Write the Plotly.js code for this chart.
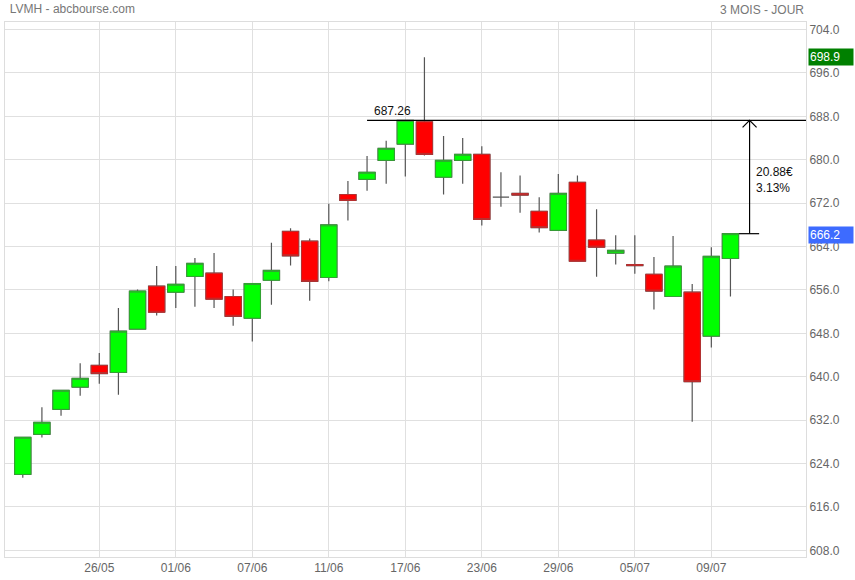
<!DOCTYPE html>
<html>
<head>
<meta charset="utf-8">
<script src="https://cdn.plot.ly/plotly-3.0.1.min.js"></script>
<style>
  html, body { margin: 0; padding: 0; background: #fff; }
  #chart { width: 855px; height: 580px; }
</style>
</head>
<body>
<div id="chart"></div>
<script>
// ---- data (LVMH, daily, 3 months view) ----
const dates = ["20/05","21/05","24/05","25/05","26/05","27/05","28/05","31/05","01/06","02/06",
               "03/06","04/06","07/06","08/06","09/06","10/06","11/06","14/06","15/06","16/06",
               "17/06","18/06","21/06","22/06","23/06","24/06","25/06","28/06","29/06","30/06",
               "01/07","02/07","05/07","06/07","07/07","08/07","09/07","12/07"];
const openP  = [622.0,629.4,634.0,638.1,642.1,640.8,648.8,656.7,655.6,658.5,
                659.1,654.8,650.8,657.8,666.8,665.0,658.3,673.6,676.4,679.9,
                682.9,687.0,676.8,679.9,681.0,673.1,673.8,670.5,667.0,675.85,
                665.2,662.8,660.7,658.9,654.8,655.6,647.5,661.8];
const highP  = [628.9,634.4,637.6,642.5,644.4,652.7,656.1,660.4,660.4,661.9,
                662.8,656.1,657.3,664.7,667.4,665.5,671.9,676.1,680.7,683.5,
                687.4,698.9,684.4,684.0,682.5,677.7,677.1,673.1,677.4,677.1,
                670.9,666.1,666.1,662.1,665.95,657.1,663.9,666.5];
const lowP   = [621.4,628.8,632.8,636.5,638.7,636.7,648.8,651.3,652.7,652.9,
                652.7,649.4,646.5,653.3,660.5,654.0,657.6,668.8,674.3,675.6,
                676.9,680.8,673.6,675.6,667.9,671.35,670.25,666.6,667.0,661.3,
                658.45,660.7,659.0,652.4,654.8,631.7,645.4,654.8];
const closeP = [628.85,631.6,637.5,639.7,640.6,648.4,655.8,651.9,657.05,660.9,
                654.3,651.15,657.2,659.6,662.3,657.6,668.0,672.5,677.7,682.1,
                687.26,681.0,679.9,681.0,669.0,673.1,673.5,667.5,673.8,661.3,
                663.9,663.3,660.5,655.8,660.4,639.1,662.2,666.38];
const tickLabels = ["26/05","01/06","07/06","11/06","17/06","23/06","29/06","05/07","09/07"];

// reference values shown on the chart
const refHigh = 687.26;     // highest close
const refLast = 666.38;     // base of the measure arrow
const periodHigh = 698.9;   // green price tag
const lastPrice = 666.2;    // blue price tag

const diff = refHigh - refLast;
const pct = diff / refLast * 100;

// ---- traces ----
const wicks = {
  type: 'candlestick', x: dates, open: openP, high: highP, low: lowP, close: closeP,
  increasing: { line: { color: '#555555', width: 1.2 }, fillcolor: 'rgba(0,0,0,0)' },
  decreasing: { line: { color: '#555555', width: 1.2 }, fillcolor: 'rgba(0,0,0,0)' },
  whiskerwidth: 0, hoverinfo: 'skip', showlegend: false
};
// bodies (only candles with a real body)
const bi = dates.map((d, i) => i).filter(i => openP[i] !== closeP[i]);
const bodies = {
  type: 'candlestick',
  x: bi.map(i => dates[i]),
  open: bi.map(i => openP[i]),
  close: bi.map(i => closeP[i]),
  high: bi.map(i => Math.max(openP[i], closeP[i])),
  low: bi.map(i => Math.min(openP[i], closeP[i])),
  increasing: { line: { color: '#33a333', width: 1 }, fillcolor: '#00ff00' },
  decreasing: { line: { color: '#b83030', width: 1 }, fillcolor: '#ff0000' },
  whiskerwidth: 0, hoverinfo: 'skip', showlegend: false
};

const xRange = [-0.93, 40.95];
const lastIdx = dates.length - 1;
const arrowX = lastIdx + 1;

const layout = {
  width: 855, height: 580,
  margin: { l: 5, r: 49, t: 22, b: 23 },
  paper_bgcolor: '#ffffff', plot_bgcolor: '#ffffff',
  font: { family: 'Arial, "Liberation Sans", sans-serif', size: 12, color: '#666' },
  title: { text: 'LVMH - abcbourse.com', x: 0.006, xanchor: 'left', xref: 'paper',
           y: 0.985, yanchor: 'middle', font: { size: 12, color: '#777' } },
  showlegend: false, hovermode: false,
  boxgap: 0.15, boxgroupgap: 0,
  xaxis: {
    type: 'category', range: xRange, rangeslider: { visible: false },
    tickmode: 'array', tickvals: tickLabels, ticktext: tickLabels,
    showgrid: true, gridcolor: '#e0e0e0', gridwidth: 1,
    showline: true, linecolor: '#dddddd', linewidth: 1, mirror: true,
    ticks: '', tickfont: { size: 12, color: '#666' }, zeroline: false, fixedrange: true
  },
  yaxis: {
    side: 'right', range: [606.78, 705.4],
    tick0: 608, dtick: 8, tickformat: '.1f',
    showgrid: true, gridcolor: '#e0e0e0', gridwidth: 1,
    showline: true, linecolor: '#dddddd', linewidth: 1, mirror: true,
    ticks: '', tickfont: { size: 12, color: '#666' }, zeroline: false, fixedrange: true
  },
  shapes: [
    { type: 'line', xref: 'x', yref: 'y', x0: 18, x1: xRange[1], y0: refHigh, y1: refHigh,
      line: { color: '#000', width: 1.2 } },
    { type: 'line', xref: 'x', yref: 'y', x0: arrowX, x1: arrowX, y0: refLast, y1: refHigh,
      line: { color: '#000', width: 1.2 } },
    { type: 'line', xref: 'x', yref: 'y', x0: arrowX - 0.55, x1: arrowX + 0.5, y0: refLast, y1: refLast,
      line: { color: '#000', width: 1.2 } },
    { type: 'path', xref: 'x', yref: 'y', xsizemode: 'pixel', ysizemode: 'pixel',
      xanchor: arrowX, yanchor: refHigh, path: 'M-7,-7L0,0L7,-7',
      line: { color: '#000', width: 1.2 } }
  ],
  annotations: [
    { text: '3 MOIS - JOUR', xref: 'paper', yref: 'paper', x: 1, y: 1, yshift: 3,
      xanchor: 'right', yanchor: 'bottom', showarrow: false, font: { size: 12, color: '#777' } },
    { text: refHigh.toFixed(2), xref: 'x', yref: 'y', x: 18.25, y: refHigh,
      xanchor: 'left', yanchor: 'bottom', showarrow: false, font: { size: 12, color: '#111' } },
    { text: diff.toFixed(2) + '€<br>' + pct.toFixed(2) + '%', xref: 'x', yref: 'y',
      x: arrowX + 0.22, y: 676.3, xanchor: 'left', yanchor: 'middle', align: 'left',
      showarrow: false, font: { size: 12, color: '#111' } },
    { text: periodHigh.toFixed(1), xref: 'paper', yref: 'y', x: 1, y: periodHigh, xshift: 2,
      xanchor: 'left', yanchor: 'middle', showarrow: false, bgcolor: '#008000',
      width: 42, align: 'left', borderpad: 1, font: { size: 12, color: '#fff' } },
    { text: lastPrice.toFixed(1), xref: 'paper', yref: 'y', x: 1, y: lastPrice, xshift: 2,
      xanchor: 'left', yanchor: 'middle', showarrow: false, bgcolor: '#3d6bff',
      width: 42, align: 'left', borderpad: 1, font: { size: 12, color: '#fff' } }
  ]
};

Plotly.newPlot('chart', [wicks, bodies], layout, { displayModeBar: false, staticPlot: true });
</script>
</body>
</html>
